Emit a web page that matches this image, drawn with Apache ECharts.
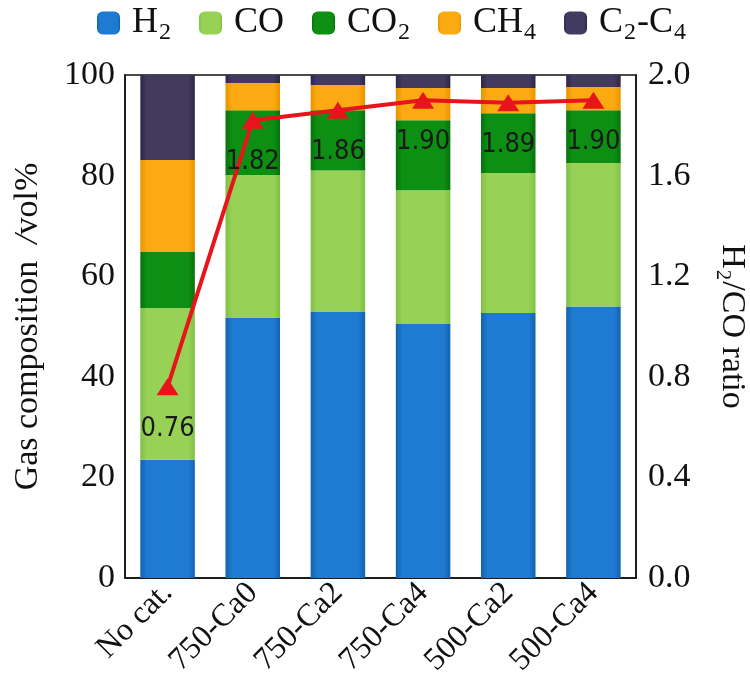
<!DOCTYPE html>
<html>
<head>
<meta charset="utf-8">
<script src="https://cdn.jsdelivr.net/npm/echarts@6/dist/echarts.min.js"></script>
<style>
  html, body { margin: 0; padding: 0; background: #fff; }
  #chart { width: 750px; height: 694px; }
</style>
</head>
<body>
<div id="chart"></div>
<script>
let categories = ['No cat.', '750-Ca0', '750-Ca2', '750-Ca4', '500-Ca2', '500-Ca4']
let h2 = [23.5, 51.7, 53.0, 50.5, 52.7, 54.0]
let co = [30.2, 28.4, 28.0, 26.6, 27.8, 28.5]
let co2 = [11.2, 12.9, 12.0, 13.9, 11.9, 10.5]
let ch4 = [18.2, 5.4, 5.0, 6.4, 5.0, 4.6]
let c2c4 = [16.9, 1.6, 2.0, 2.6, 2.6, 2.4]
let ratio = [0.76, 1.82, 1.86, 1.90, 1.89, 1.90]
let leftTicks = [0, 20, 40, 60, 80, 100]
let rightTicks = [0.0, 0.4, 0.8, 1.2, 1.6, 2.0]

let serif = 'Liberation Serif'

function gloss(edge, mid) {
  return new echarts.graphic.LinearGradient(0, 0, 1, 0, [
    {offset: 0, color: edge},
    {offset: 0.12, color: mid},
    {offset: 0.88, color: mid},
    {offset: 1, color: edge}
  ])
}

function barSeries(name, data, edge, mid) {
  return {
    name: name,
    type: 'bar',
    stack: 'gas',
    barWidth: '64%',
    data: data,
    itemStyle: {color: gloss(edge, mid)}
  }
}

// rich styles for chemical formulas (main text + lowered subscript)
function formulaRich(size, subSize, drop) {
  return {
    p: {width: 7},
    n: {fontFamily: serif, fontSize: size, color: '#111'},
    s: {fontFamily: serif, fontSize: subSize, color: '#111', padding: [drop, 1, 0, 1]}
  }
}

let legendNames = {
  'H2': '{p|}{n|H}{s|2}',
  'CO': '{p|}{n|CO}',
  'CO2': '{p|}{n|CO}{s|2}',
  'CH4': '{p|}{n|CH}{s|4}',
  'C2-C4': '{p|}{n|C}{s|2}{n|-C}{s|4}'
}

let chart = echarts.init(document.getElementById('chart'))
let option = {
  animation: false,
  backgroundColor: '#fff',
  legend: {
    top: 5,
    left: 97,
    padding: 0,
    itemWidth: 23,
    itemHeight: 23,
    itemGap: 28,
    data: ['H2', 'CO', 'CO2', 'CH4', 'C2-C4'],
    formatter: function (name) { return legendNames[name] },
    textStyle: {fontFamily: serif, fontSize: 36, color: '#111', rich: formulaRich(36, 24, 20)}
  },
  grid: {
    left: 125, right: 114, top: 75, bottom: 116,
    outerBoundsMode: 'none',
    show: true, borderColor: '#111', borderWidth: 1.5
  },
  xAxis: {
    type: 'category',
    data: categories,
    axisLine: {lineStyle: {color: '#111', width: 1.5}},
    axisTick: {inside: true, length: 8, lineStyle: {color: '#111'}},
    axisLabel: {rotate: 45, margin: 10, fontFamily: serif, fontSize: 32, color: '#111'}
  },
  yAxis: [
    {
      type: 'value', min: 0, max: 100, interval: 20,
      name: 'Gas composition  {i|/}vol%',
      nameLocation: 'middle', nameGap: 80, nameRotate: 90,
      nameTextStyle: {fontFamily: serif, fontSize: 34, color: '#111',
        rich: {i: {fontFamily: serif, fontStyle: 'italic', fontSize: 34, color: '#111'}}},
      axisLine: {show: true, lineStyle: {color: '#111', width: 1.5}},
      axisTick: {inside: true, length: 9, lineStyle: {color: '#111'}},
      axisLabel: {margin: 10, fontFamily: serif, fontSize: 34, color: '#111',
        formatter: function (v) { return leftTicks.indexOf(v) >= 0 ? String(v) : '' }},
      splitLine: {show: false}
    },
    {
      type: 'value', min: 0, max: 2, interval: 0.4,
      name: '{n|H}{s|2}{n|/CO ratio}',
      nameLocation: 'middle', nameGap: 76, nameRotate: -90,
      nameTextStyle: {fontFamily: serif, fontSize: 34, color: '#111',
        rich: formulaRich(34, 21, 18)},
      axisLine: {show: true, lineStyle: {color: '#111', width: 1.5}},
      axisTick: {inside: true, length: 9, lineStyle: {color: '#111'}},
      axisLabel: {margin: 12, fontFamily: serif, fontSize: 34, color: '#111',
        formatter: function (v) { return v.toFixed(1) }},
      splitLine: {show: false}
    }
  ],
  series: [
    barSeries('H2', h2, '#1262ad', '#1f7ad2'),
    barSeries('CO', co, '#7fbf45', '#97d257'),
    barSeries('CO2', co2, '#07720b', '#0d8f13'),
    barSeries('CH4', ch4, '#e89400', '#fbaa12'),
    barSeries('C2-C4', c2c4, '#2e2748', '#433a60'),
    {
      name: 'ratio',
      type: 'line',
      yAxisIndex: 1,
      data: ratio,
      symbol: 'triangle',
      symbolSize: [22, 17],
      lineStyle: {color: '#e8141c', width: 4},
      itemStyle: {color: '#e8141c'},
      label: {
        show: true, position: 'bottom', distance: 20,
        fontFamily: 'DejaVu Sans Condensed, Liberation Mono', fontSize: 27, color: '#1a1a1a',
        formatter: function (p) { return p.value.toFixed(2) }
      },
      z: 10
    }
  ]
}
chart.setOption(option)
</script>
</body>
</html>
